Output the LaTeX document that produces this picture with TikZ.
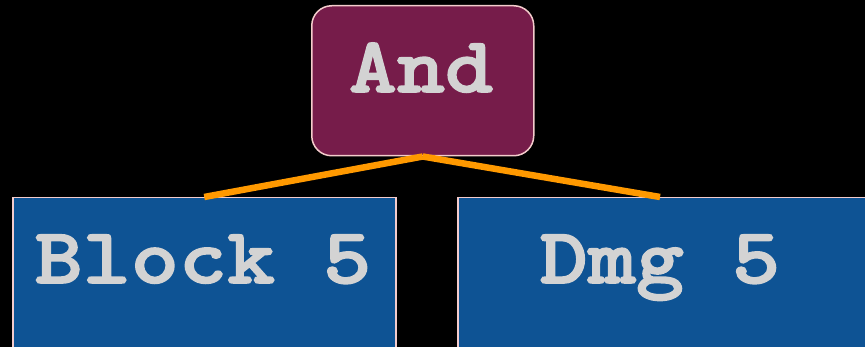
\documentclass[tikz,border=0pt]{standalone}
\usepackage{fontspec}
\newfontfamily\codefont[FakeStretch=1.16,FakeBold=2]{lmmonolt10-bold.otf}
\definecolor{andpurple}{HTML}{761C4A}
\definecolor{leafblue}{HTML}{0E5394}
\definecolor{labelgray}{HTML}{D3D3D3}
\definecolor{linkorange}{HTML}{FF9900}
\definecolor{edgepink}{HTML}{F4CCCC}
\begin{document}
\begin{tikzpicture}[x=1pt,y=-1pt,
  box/.style={draw=edgepink, line width=1.5pt, inner sep=0pt, anchor=north west},
  lbl/.style={font=\codefont\fontsize{79}{90}\selectfont, text=labelgray, anchor=base, inner sep=0pt},
  link/.style={draw=linkorange, line width=6.5pt}]
\useasboundingbox (0,0) rectangle (865,347);
\fill[black] (0,0) rectangle (865,347);
% boxes
\node[box, fill=andpurple, rounded corners=20pt, minimum width=222pt, minimum height=150pt] (andbox) at (311,5) {};
\node[box, fill=leafblue, minimum width=383pt, minimum height=200pt] (blockbox) at (12,197) {};
\node[box, fill=leafblue, minimum width=450pt, minimum height=200pt] (dmgbox) at (457,197) {};
% labels
\node[lbl] (andtext) at (421,92) {And};
\node[lbl] (blocktext) at (203,283) {Block 5};
\node[lbl] (dmgtext) at (660,283) {Dmg 5};
% connectors
\draw[link] (andbox.south) -- (blockbox.north);
\draw[link] (andbox.south) -- (dmgtext.center |- dmgbox.north);
\end{tikzpicture}
\end{document}
